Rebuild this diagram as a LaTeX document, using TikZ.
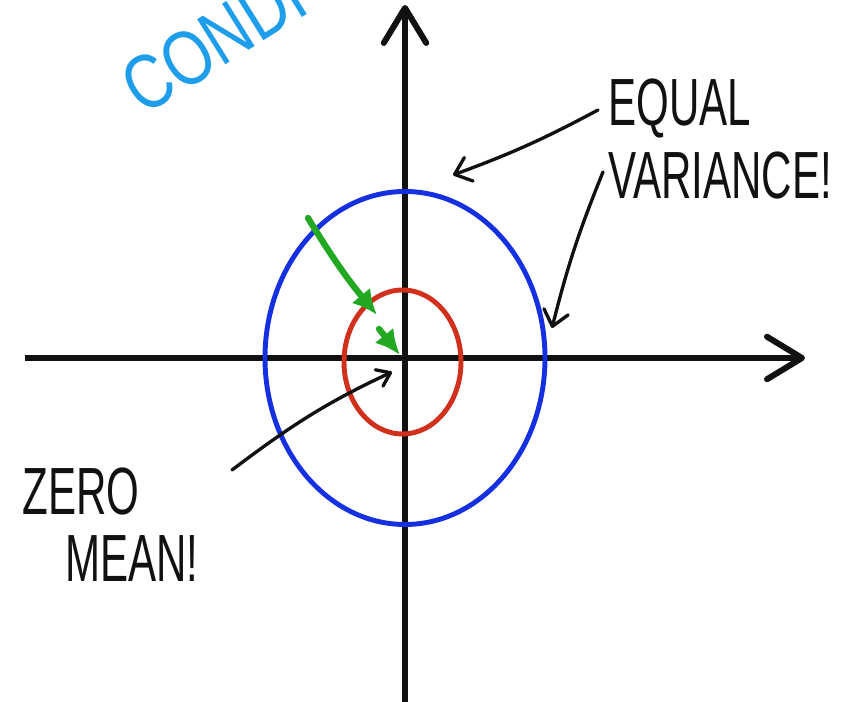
\documentclass[tikz,border=0pt]{standalone}
\usepackage{fontspec}
\usepackage{tikz}
\usetikzlibrary{arrows.meta,shapes.geometric}
\newfontfamily\handfont[FakeStretch=0.63]{Liberation Sans}
\newfontfamily\skyfont[FakeStretch=0.8]{Liberation Sans}
\definecolor{Ink}{HTML}{111111}
\definecolor{Sky}{HTML}{1E9EEA}
\definecolor{Royal}{HTML}{1530E0}
\definecolor{Brick}{HTML}{D0301C}
\definecolor{Leaf}{HTML}{22A822}

\begin{document}
\begin{tikzpicture}[
        ax/.style={draw=Ink,line width=3.4pt,-{Straight Barb[length=0.7cm,width=0.85cm,round]}},
        ring/.style={ellipse,line width=2.8pt,inner sep=0pt},
        lbl/.style={font=\handfont\fontsize{38}{38}\selectfont,text=Ink,align=left,inner sep=0pt},
        note/.style={draw=Ink,line width=1.9pt,line cap=round,-{Straight Barb[length=0.3cm,width=0.5cm,round]}},
        mv/.style={draw=Leaf,line width=3.6pt,line cap=round,-{Latex[length=0.5cm,width=0.48cm]}}]
        \useasboundingbox (0,0) rectangle (17,14.04);
        \clip (0,0) rectangle (17,14.04);
        % axes
        \coordinate (o) at (8.10,6.88);
        \coordinate (xl) at (0.50,6.88);
        \coordinate (xr) at (16.10,6.88);
        \coordinate (yb) at (8.10,-0.1);
        \coordinate (yt) at (8.10,13.94);
        \draw[ax] (xl)--(xr);
        \draw[ax] (yb)--(yt);
        % the two spreads
        \node[ring,draw=Royal,minimum width=5.6cm,minimum height=6.66cm] (big) at (o) {};
        \node[ring,draw=Brick,minimum width=2.34cm,minimum height=2.88cm] (small) at (8.05,6.80) {};
        % shrinking step
        \coordinate (gs) at (6.16,9.68);
        \coordinate (gm) at (7.54,7.74);
        \coordinate (gk) at (7.58,7.46);
        \coordinate (ge) at (8.00,6.94);
        \draw[mv] (gs) to[bend right=4] (gm);
        \draw[mv] (gk)--(ge);
        % labels
        \node[font=\skyfont\fontsize{44}{44}\selectfont,text=Sky,rotate=32,anchor=base west,inner sep=0pt] (cond) at (2.86,11.70) {CONDI};
        \node[lbl,anchor=north west,font=\handfont\fontsize{38}{41}\selectfont] (eqv) at (12.16,12.46) {EQUAL\\VARIANCE!};
        \node[lbl,anchor=north west] (zm) at (0.44,4.68) {ZERO\\\hspace*{0.86cm}MEAN!};
        \coordinate (e1s) at (11.96,11.84);
        \coordinate (e1t) at (9.06,10.54);
        \coordinate (e2s) at (12.06,10.60);
        \coordinate (e2t) at (11.04,7.48);
        \coordinate (zs) at (4.64,4.64);
        \coordinate (zt) at (7.84,6.60);
        \draw[note] (e1s) to[bend left=4] (e1t);
        \draw[note] (e2s) to[bend right=4] (e2t);
        \draw[note,-{Straight Barb[length=0.25cm,width=0.36cm,round]}] (zs) to[out=37,in=205] (zt);
      \end{tikzpicture}
\end{document}
